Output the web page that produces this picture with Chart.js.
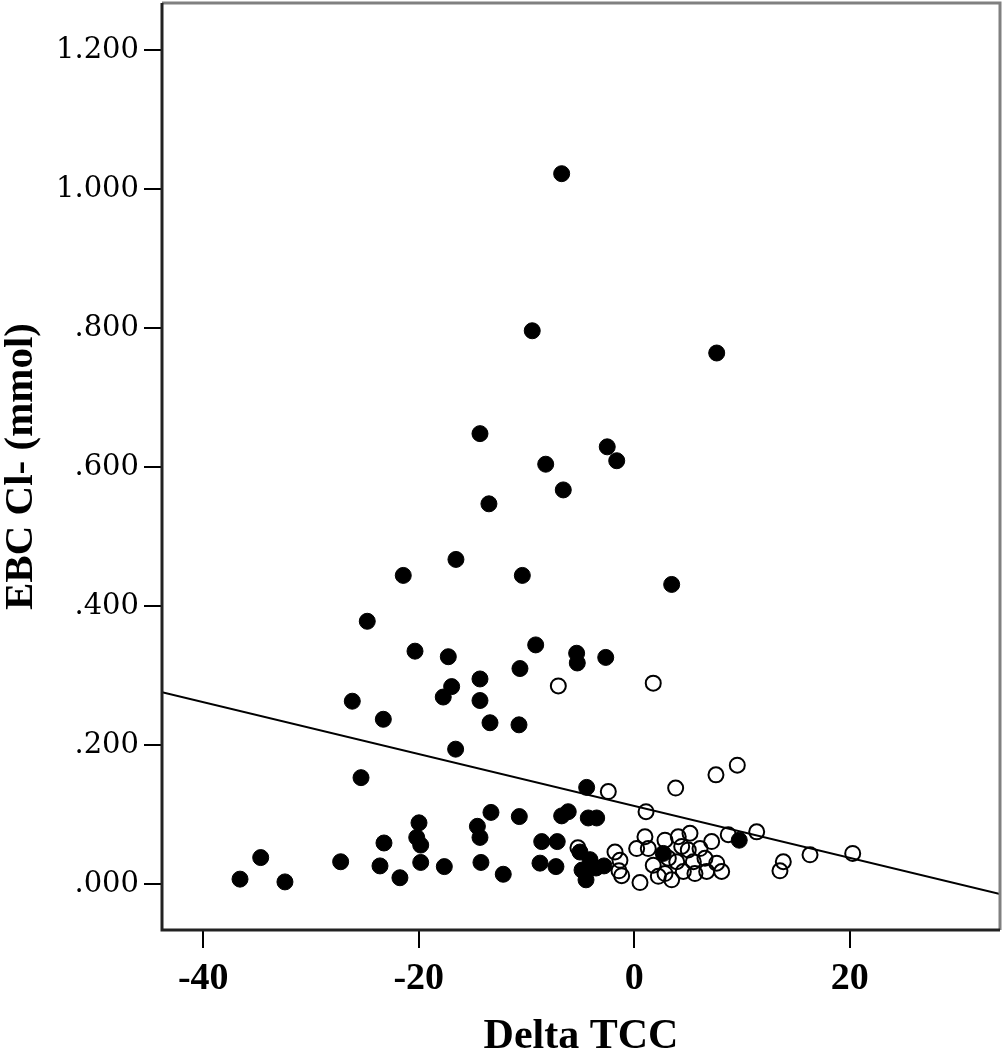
<!DOCTYPE html>
<html>
<head>
<meta charset="utf-8">
<script src="https://cdn.jsdelivr.net/npm/chart.js@4.4.1/dist/chart.umd.min.js"></script>
<style>
  body { margin: 0; background: #fff; }
  canvas { display: block; }
</style>
</head>
<body>
<canvas id="scatter" width="1004" height="1050"></canvas>
<script>
// Delta TCC vs EBC Cl- (mmol)

// filled circles
const filledX = [
  -6.74, -9.47, 7.65, -14.32, -8.22, -2.51, -1.63, -6.59, -13.49, -16.55,
  -21.44, -10.39, 3.47, -24.78, -20.35, -17.26, -9.15, -5.35, -5.29, -2.65,
  -10.61, -14.32, -16.95, -17.73, -14.32, -26.17, -23.29, -13.39, -10.70, -16.58,
  -25.36, -4.42, -13.30, -10.67, -6.74, -6.13, -4.27, -3.49, -19.98, -14.56,
  -20.19, -14.32, -19.82, -23.23, -8.59, -7.15, -34.67, -27.25, -23.60, -19.82,
  -17.63, -14.23, -8.75, -7.27, -36.59, -32.42, -21.75, -12.16, 9.74, 2.69,
  -5.04, -4.11, -4.85, -3.55, -4.48, -2.81
]
const filledY = [
  1.022, 0.796, 0.764, 0.648, 0.604, 0.629, 0.609, 0.567, 0.547, 0.467,
  0.444, 0.444, 0.431, 0.378, 0.335, 0.327, 0.344, 0.332, 0.318, 0.326,
  0.310, 0.295, 0.284, 0.269, 0.264, 0.263, 0.237, 0.232, 0.229, 0.194,
  0.153, 0.139, 0.103, 0.097, 0.098, 0.104, 0.095, 0.095, 0.088, 0.083,
  0.067, 0.067, 0.056, 0.059, 0.061, 0.061, 0.038, 0.032, 0.026, 0.031,
  0.025, 0.031, 0.030, 0.025, 0.007, 0.003, 0.009, 0.014, 0.063, 0.044,
  0.046, 0.035, 0.020, 0.023, 0.006, 0.026
]

// open circles
const openX = [
  -7.05, 1.76, 9.56, 7.58, 3.84, -2.41, 1.09, 8.72, 11.36, 16.31,
  20.27, 13.83, 13.52, -1.79, -1.33, -1.17, 0.53, -5.23, -1.42,
  0.99, 2.85, 4.08, 5.17, 7.18, 0.22, 1.30, 5.01, 6.10, 3.94,
  5.48, 6.56, 7.65, 1.76, 8.11, 6.72, 5.63, 4.55, 2.85, 2.23,
  3.47, 3.16, 4.40
]
const openY = [
  0.285, 0.289, 0.171, 0.157, 0.138, 0.133, 0.104, 0.071, 0.075, 0.042,
  0.044, 0.032, 0.019, 0.046, 0.034, 0.012, 0.002, 0.052, 0.019,
  0.068, 0.063, 0.068, 0.073, 0.061, 0.051, 0.051, 0.049, 0.051, 0.032,
  0.032, 0.037, 0.030, 0.027, 0.018, 0.018, 0.015, 0.018, 0.015, 0.011,
  0.006, 0.037, 0.054
]

// fit line end points
const lineX = [-43.83, 33.94]
const lineY = [0.276, -0.0146]

const xTicks = [-40, -20, 0, 20]
const yTicks = [0, 0.2, 0.4, 0.6, 0.8, 1.0, 1.2]

const toPoints = (xs, ys) => xs.map((x, i) => ({ x: x, y: ys[i] }))

// gray frame round the plot
const framePlugin = {
  id: 'frame',
  afterDraw(chart) {
    const { ctx, chartArea: a } = chart
    ctx.save()
    ctx.strokeStyle = '#808080'
    ctx.lineWidth = 3
    ctx.beginPath()
    ctx.moveTo(a.left, a.top)
    ctx.lineTo(a.right, a.top)
    ctx.lineTo(a.right, a.bottom)
    ctx.stroke()
    ctx.strokeStyle = '#222'
    ctx.lineWidth = 3
    ctx.beginPath()
    ctx.moveTo(a.left, a.top)
    ctx.lineTo(a.left, a.bottom)
    ctx.lineTo(a.right, a.bottom)
    ctx.stroke()
    ctx.restore()
  }
}

Chart.defaults.font.family = "'Liberation Serif', serif"
Chart.defaults.color = '#000'

new Chart(document.getElementById('scatter'), {
  type: 'scatter',
  data: {
    datasets: [
      {
        type: 'line',
        data: toPoints(lineX, lineY),
        borderColor: '#000',
        borderWidth: 2,
        pointRadius: 0,
        fill: false,
        order: 0
      },
      {
        data: toPoints(filledX, filledY),
        backgroundColor: '#000',
        borderColor: '#000',
        borderWidth: 1,
        pointRadius: 8,
        order: 1
      },
      {
        data: toPoints(openX, openY),
        backgroundColor: 'rgba(255,255,255,0)',
        borderColor: '#000',
        borderWidth: 2,
        pointRadius: 7.5,
        order: 2
      }
    ]
  },
  options: {
    responsive: false,
    animation: false,
    events: [],
    layout: { autoPadding: false, padding: { top: 3, right: 4, left: 0, bottom: 0 } },
    plugins: {
      legend: { display: false },
      tooltip: { enabled: false }
    },
    scales: {
      x: {
        type: 'linear',
        min: -43.83,
        max: 33.94,
        afterBuildTicks: s => { s.ticks = xTicks.map(v => ({ value: v })) },
        afterFit: s => {
          s.height = 120
          s.paddingLeft = 0
          s.paddingRight = 0
        },
        grid: { drawOnChartArea: false, drawTicks: true, tickLength: 18, color: '#000', lineWidth: 2 },
        border: { display: false },
        ticks: {
          padding: 8,
          maxRotation: 0,
          font: { size: 38, weight: 'bold' }
        },
        title: {
          display: true,
          text: 'Delta TCC',
          font: { size: 42, weight: 'bold', lineHeight: 0.5 },
          padding: { top: 0, bottom: 2 }
        }
      },
      y: {
        type: 'linear',
        min: -0.0662,
        max: 1.2676,
        afterBuildTicks: s => { s.ticks = yTicks.map(v => ({ value: v })) },
        afterFit: s => {
          s.width = 162
          s.paddingTop = 0
          s.paddingBottom = 0
        },
        grid: { drawOnChartArea: false, drawTicks: true, tickLength: 18, color: '#000', lineWidth: 2 },
        border: { display: false },
        ticks: {
          padding: 5,
          font: { family: "'DejaVu Serif', serif", size: 29 },
          callback: v => v.toFixed(3).replace(/^0/, '')
        },
        title: {
          display: true,
          text: 'EBC Cl- (mmol)',
          font: { size: 41, weight: 'bold', lineHeight: 1 },
          padding: { top: 1, bottom: 0 }
        }
      }
    }
  },
  plugins: [framePlugin]
})
</script>
</body>
</html>
